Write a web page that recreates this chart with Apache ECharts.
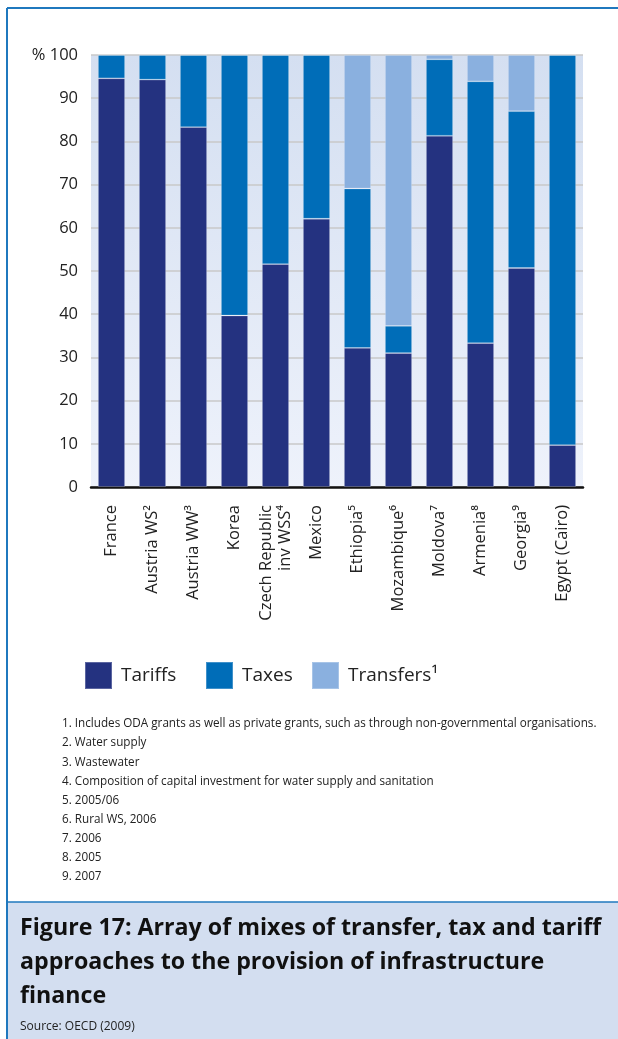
<!DOCTYPE html>
<html>
<head>
<meta charset="utf-8">
<script src="https://cdn.jsdelivr.net/npm/echarts@6/dist/echarts.min.js"></script>
<style>
  html, body { margin: 0; padding: 0; background: #fff; }
  #chart { width: 618px; height: 1039px; }
</style>
</head>
<body>
<div id="chart"></div>
<script>
  const categories = ["France", "Austria WS²", "Austria WW³", "Korea", "Czech Republic\ninv WSS⁴", "Mexico",
    "Ethiopia⁵", "Mozambique⁶", "Moldova⁷", "Armenia⁸", "Georgia⁹", "Egypt (Cairo)"];
  const tariffs = [94.6, 94.3, 83.3, 39.7, 51.6, 62.1, 32.2, 31.0, 81.3, 33.3, 50.7, 9.7];
  const taxes = [5.4, 5.7, 16.7, 60.3, 48.4, 37.9, 36.9, 6.3, 17.7, 60.6, 36.3, 90.3];
  const transfers = [0, 0, 0, 0, 0, 0, 30.9, 62.7, 1.0, 6.1, 13.0, 0];
  const footnotes = [
    "1. Includes ODA grants as well as private grants, such as through non-governmental organisations.",
    "2. Water supply",
    "3. Wastewater",
    "4. Composition of capital investment for water supply and sanitation",
    "5. 2005/06",
    "6. Rural WS, 2006",
    "7. 2006",
    "8. 2005",
    "9. 2007"
  ];
  const titleLines = [
    "Figure 17: Array of mixes of transfer, tax and tariff",
    "approaches to the provision of infrastructure",
    "finance"
  ];
  const source = "Source: OECD (2009)";

  const font = "'Open Sans', sans-serif";
  const colors = { tariffs: "#243280", taxes: "#006db8", transfers: "#8ab0df" };
  const frame = "#1f78be";

  const chart = echarts.init(document.getElementById("chart"));

  function legendAt(left, name) {
    return {
      left: left, top: 661, padding: 0, itemWidth: 27, itemHeight: 27, icon: "rect",
      data: [name], selectedMode: false,
      textStyle: { fontFamily: font, fontSize: 19, color: "#222", padding: [0, 0, 0, 4] }
    };
  }

  function barSeries(name, data, color) {
    return {
      name: name, type: "bar", stack: "total", data: data, barWidth: 27,
      itemStyle: { color: color, borderColor: "rgba(255,255,255,0.25)", borderWidth: 0.8 },
      emphasis: { disabled: true }
    };
  }

  const graphics = [
    // outer frame
    { type: "line", shape: { x1: 7, y1: 8, x2: 618, y2: 8 }, style: { stroke: frame, lineWidth: 2 } },
    { type: "line", shape: { x1: 7, y1: 8, x2: 7, y2: 1039 }, style: { stroke: frame, lineWidth: 2 } },
    // title panel
    { type: "rect", shape: { x: 8, y: 902, width: 610, height: 137 }, style: { fill: "#d3def0" } },
    { type: "line", shape: { x1: 7, y1: 902, x2: 618, y2: 902 }, style: { stroke: frame, lineWidth: 1.5 } }
  ];
  footnotes.forEach((t, i) => {
    graphics.push({
      type: "text", left: 62, top: 723 + i * 19.1 - 5,
      style: { text: t, fontFamily: font, fontSize: 11.7, fill: "#222" }
    });
  });
  titleLines.forEach((t, i) => {
    graphics.push({
      type: "text", left: 20, top: 928 + i * 34 - 11,
      style: { text: t, fontFamily: font, fontSize: 23.2, fontWeight: "bold", fill: "#111" }
    });
  });
  graphics.push({
    type: "text", left: 20, top: 1021,
    style: { text: source, fontFamily: font, fontSize: 12, fill: "#222" }
  });

  chart.setOption({
    animation: false,
    backgroundColor: "#fff",
    grid: {
      left: 91, right: 35, top: 55, height: 432,
      show: true, borderWidth: 0,
      backgroundColor: new echarts.graphic.LinearGradient(0, 0, 0, 1, [
        { offset: 0, color: "#d4dff1" },
        { offset: 1, color: "#eef2fb" }
      ])
    },
    legend: [
      legendAt(84, "Tariffs"),
      legendAt(205, "Taxes"),
      legendAt(311, "Transfers¹")
    ],
    xAxis: {
      type: "category",
      data: categories,
      axisLine: { lineStyle: { color: "#111", width: 2.5 } },
      axisTick: { show: false },
      axisLabel: {
        rotate: 90, margin: 18, interval: 0,
        fontFamily: font, fontSize: 16.5, color: "#222", lineHeight: 19
      }
    },
    yAxis: {
      type: "value", min: 0, max: 100, interval: 10,
      axisLine: { show: false },
      axisTick: { show: false },
      splitLine: { lineStyle: { color: "#c8c8c8", width: 1.5 } },
      axisLabel: {
        margin: 13, fontFamily: font, fontSize: 16.5, color: "#222",
        formatter: v => (v === 100 ? "% 100" : String(v))
      }
    },
    series: [
      barSeries("Tariffs", tariffs, colors.tariffs),
      barSeries("Taxes", taxes, colors.taxes),
      barSeries("Transfers¹", transfers, colors.transfers)
    ],
    graphic: graphics
  });
</script>
</body>
</html>
